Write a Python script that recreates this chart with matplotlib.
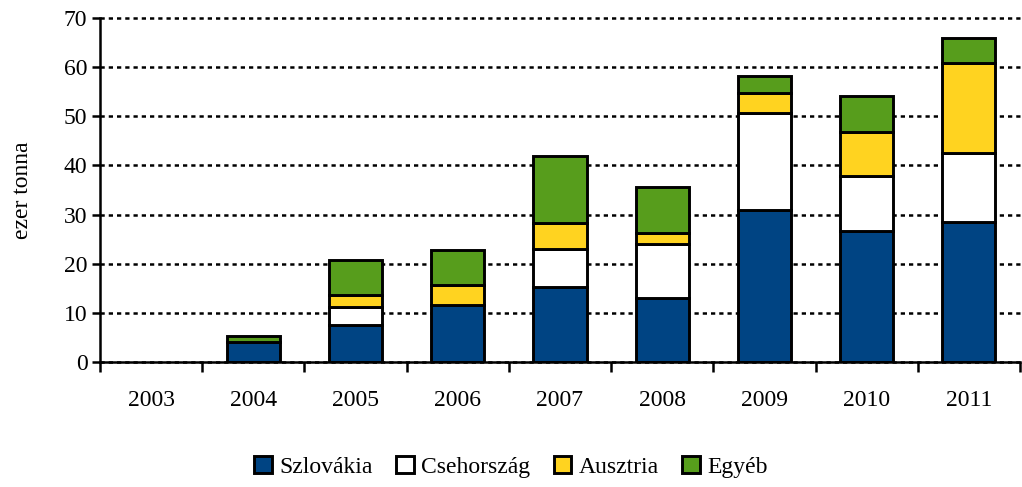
import numpy as np
import matplotlib.pyplot as plt
from matplotlib.patches import Patch

years = ["2003", "2004", "2005", "2006", "2007", "2008", "2009", "2010", "2011"]
szlovakia = [0, 4.0, 7.5, 11.6, 15.3, 13.1, 31.0, 26.6, 28.5]
csehorszag = [0, 0, 3.7, 0, 7.6, 10.9, 19.6, 11.2, 14.1]
ausztria = [0, 0, 2.4, 4.1, 5.3, 2.3, 4.1, 8.9, 18.2]
egyeb = [0, 1.3, 7.1, 7.0, 13.8, 9.3, 3.5, 7.5, 5.2]

names = ["Szlovákia", "Csehország", "Ausztria", "Egyéb"]
colors = ["#004483", "#ffffff", "#ffd320", "#579d1c"]

plt.rcParams['font.family'] = ['Liberation Serif', 'DejaVu Serif']
fs = 17

fig = plt.figure(figsize=(10.22, 4.87), dpi=100)
ax = fig.add_axes([0.0978, 0.2567, 0.9002, 0.7064])

x = np.arange(len(years))
bottom = np.zeros(len(years))
for vals, name, col in zip([szlovakia, csehorszag, ausztria, egyeb], names, colors):
    lw = [2.1 if v > 0 else 0 for v in vals]
    ax.bar(x, vals, width=0.52, bottom=bottom, color=col, edgecolor="black",
           linewidth=lw, zorder=3)
    bottom += np.array(vals)

ax.set_xlim(-0.5, len(years) - 0.5)
ax.set_ylim(0, 70)
ax.set_yticks(range(0, 71, 10))
ax.yaxis.grid(True, color="black", linestyle=(0, (1.7, 1.6)), linewidth=1.8, zorder=0)
for gl in ax.get_ygridlines():
    gl.set_clip_on(False)

ax.set_xticks(x)
ax.set_xticklabels(years)
ax.set_xticks(np.arange(-0.5, len(years)), minor=True)
ax.tick_params(axis="x", which="major", length=0, pad=20, labelsize=fs)
ax.tick_params(axis="x", which="minor", length=7, width=1.8, direction="out")
ax.tick_params(axis="y", length=6, width=1.8, direction="out", labelsize=fs, pad=3)

for s in ["top", "right"]:
    ax.spines[s].set_visible(False)
ax.spines["left"].set_linewidth(1.8)
ax.spines["bottom"].set_linewidth(1.8)
ax.spines["bottom"].set_zorder(4)

ax.set_ylabel("ezer tonna", fontsize=fs, labelpad=22)

handles = [Patch(facecolor=c, edgecolor="black", linewidth=2.1) for c in colors]
fig.legend(handles, names, loc="lower center", bbox_to_anchor=(0.5, -0.025), ncol=4,
           frameon=False, fontsize=fs, handlelength=0.75, handleheight=0.75,
           handletextpad=0.3, columnspacing=1.0)

fig.savefig("out.png", dpi=100)
